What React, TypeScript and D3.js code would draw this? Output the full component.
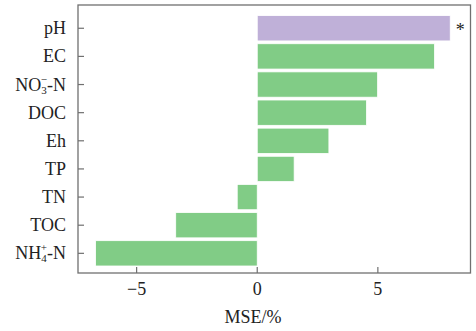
import * as d3 from "d3";
import React from "react";

// variables, top to bottom
const variables = ["pH", "EC", "NO3-N", "DOC", "Eh", "TP", "TN", "TOC", "NH4-N"];
const mseValues = [8.0, 7.35, 4.99, 4.53, 2.97, 1.53, -0.83, -3.38, -6.7];
const significant = [true, false, false, false, false, false, false, false, false];
const xTicks = [-5, 0, 5];

const width = 476;
const height = 331;
const frame = { left: 78, right: 470.5, top: 5, bottom: 273 };

const green = "#81cc86";
const purple = "#bfb0d8";
const axisColor = "#707070";
const font = "'Liberation Serif', 'Times New Roman', serif";

const Label: React.FC<{ name: string; x: number; y: number }> = ({ name, x, y }) => {
    const props = { x, y, textAnchor: "end" as const, dominantBaseline: "central" as const, fontSize: 18, fontFamily: font, fill: "#222" };
    if (name === "NO3-N" || name === "NH4-N") {
        const base = name.slice(0, 2);
        const sub = name === "NO3-N" ? "3" : "4";
        const sup = name === "NO3-N" ? "\u2212" : "+";
        return (
            <text {...props}>
                {base}
                <tspan fontSize={11} dy={5}>{sub}</tspan>
                <tspan fontSize={11} dx={-6} dy={-11}>{sup}</tspan>
                <tspan dy={6}>-N</tspan>
            </text>
        );
    }
    return <text {...props}>{name}</text>;
};

export default function App() {
    const x = d3.scaleLinear().domain([-7.43, 8.84]).range([frame.left, frame.right]);
    const y = d3.scaleBand<string>().domain(variables).range([14.2, 267.4]).paddingInner(0.1).paddingOuter(0.05);

    return (
        <svg width={width} height={height} style={{ position: "absolute", left: 0, top: 0, background: "#fff" }}>
            {variables.map((v, i) => {
                const val = mseValues[i];
                return (
                    <rect
                        key={v}
                        x={x(Math.min(0, val))}
                        y={y(v)!}
                        width={Math.abs(x(val) - x(0))}
                        height={y.bandwidth()}
                        fill={significant[i] ? purple : green}
                        stroke="#fff"
                        strokeWidth={0.8}
                    />
                );
            })}
            {variables.map((v, i) =>
                significant[i] ? (
                    <text key={v} x={x(mseValues[i]) + 10} y={y(v)! + y.bandwidth() / 2 + 8} fontSize={18} fontFamily={font} textAnchor="middle" fill="#222">*</text>
                ) : null
            )}
            <rect x={frame.left} y={frame.top} width={frame.right - frame.left} height={frame.bottom - frame.top} fill="none" stroke={axisColor} strokeWidth={1.3} />
            {variables.map((v) => {
                const cy = y(v)! + y.bandwidth() / 2;
                return (
                    <g key={v}>
                        <line x1={frame.left} x2={frame.left + 6} y1={cy} y2={cy} stroke={axisColor} strokeWidth={1.2} />
                        <Label name={v} x={frame.left - 12} y={cy} />
                    </g>
                );
            })}
            {xTicks.map((t) => (
                <g key={t}>
                    <line x1={x(t)} x2={x(t)} y1={frame.bottom} y2={frame.bottom - 6} stroke={axisColor} strokeWidth={1.2} />
                    <text x={x(t)} y={295} textAnchor="middle" fontSize={18} fontFamily={font} fill="#222">
                        {t < 0 ? `\u2212${Math.abs(t)}` : t}
                    </text>
                </g>
            ))}
            <text x={253} y={323} textAnchor="middle" fontSize={18} fontFamily={font} fill="#222">MSE/%</text>
        </svg>
    );
}
